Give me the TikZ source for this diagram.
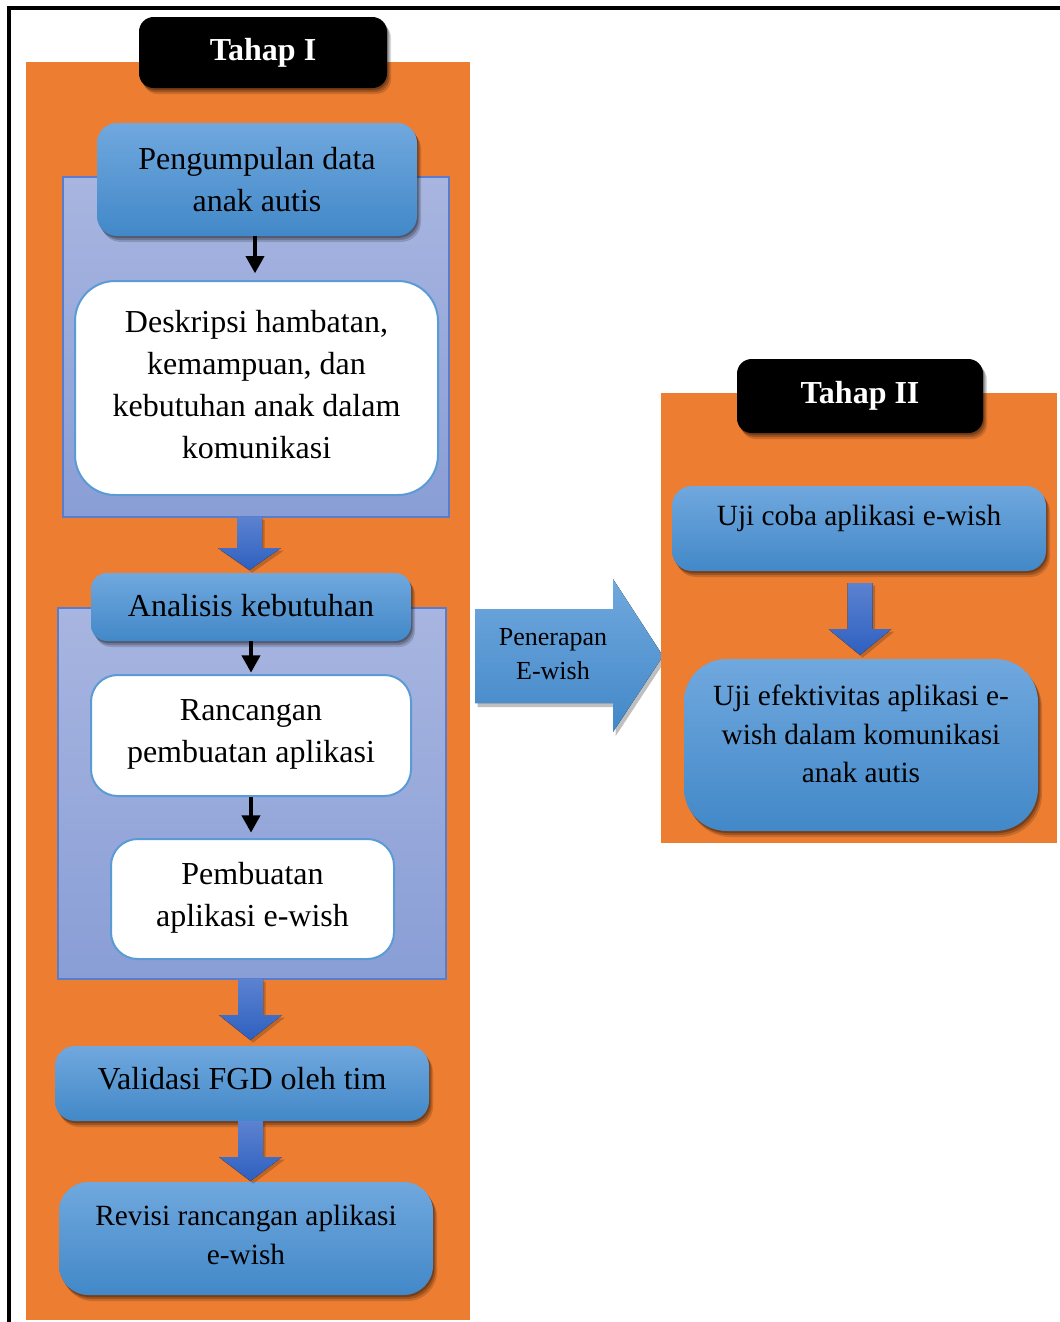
\documentclass[tikz,border=0pt]{standalone}
\usepackage{fontspec}
\setmainfont{Liberation Serif}
\usetikzlibrary{fit,shadows,arrows.meta}
\definecolor{orangeF}{HTML}{ED7D31}
\definecolor{lavTop}{RGB}{168,181,224}
\definecolor{lavBot}{RGB}{137,158,214}
\definecolor{lavEdge}{RGB}{88,125,205}
\definecolor{bTop}{RGB}{112,168,222}
\definecolor{bMid}{RGB}{84,151,217}
\definecolor{bBot}{RGB}{66,136,200}
\definecolor{wEdge}{RGB}{91,155,213}
\definecolor{aTop}{RGB}{92,130,208}
\definecolor{aBot}{RGB}{46,96,192}
\newcommand\bdarrow[4]{\fill[blockarrow] (#1-12.5,#2) -- (#1+12.5,#2) -- (#1+12.5,#3) -- (#1+31.5,#3) -- (#1,#4) -- (#1-31.5,#3) -- (#1-12.5,#3) -- cycle;}
\begin{document}
\begin{tikzpicture}[x=0.75pt,y=-0.75pt,
  softshadow/.style={
    drop shadow={shadow xshift=3pt,shadow yshift=-4.5pt,opacity=0.15,fill=black},
    drop shadow={shadow xshift=2pt,shadow yshift=-3pt,opacity=0.2,fill=black},
    drop shadow={shadow xshift=1pt,shadow yshift=-1.5pt,opacity=0.25,fill=black}},
  orangebg/.style={fill=orangeF,draw=none},
  lav/.style={inner sep=0pt,top color=lavTop,bottom color=lavBot,draw=lavEdge,line width=1.1pt},
  bluebox/.style={inner sep=0pt,top color=bTop,middle color=bMid,bottom color=bBot,draw=none,softshadow},
  whitebox/.style={inner sep=0pt,fill=white,draw=wEdge,line width=1.5pt},
  titlebox/.style={inner sep=0pt,fill=black,rounded corners=11pt,softshadow},
  titletxt/.style={text=white,font=\fontsize{24}{30}\selectfont\bfseries,inner sep=0pt},
  txt/.style={align=center,font=\fontsize{24}{31.5}\selectfont,inner sep=0pt},
  stxt/.style={align=center,font=\fontsize{22}{29}\selectfont,inner sep=0pt},
  ptxt/.style={align=center,font=\fontsize{19.5}{25.5}\selectfont,inner sep=0pt},
  thinarrow/.style={line width=3pt,-{Triangle[width=13.5pt,length=13pt]}},
  blockarrow/.style={top color=aTop,bottom color=aBot,draw=none,
    drop shadow={shadow xshift=2pt,shadow yshift=-2pt,opacity=0.2,fill=black}},
  bigarrow/.style={top color=bTop,middle color=bMid,bottom color=bBot,draw=none,
    drop shadow={shadow xshift=2pt,shadow yshift=-3pt,opacity=0.25,fill=black}}
]
\useasboundingbox (0,0) rectangle (1060,1322);
\fill[white] (0,0) rectangle (1060,1322);
% frame
\draw[line width=3pt] (1060,8) -- (9,8) -- (9,1322);

% ---------- Tahap I ----------
\fill[orangebg] (26,62) rectangle (470,1320);
\node[titlebox,fit={(139,17) (387,88)}] (t1) {};
\node[titletxt] at (t1.center) {Tahap I};

\node[lav,fit={(63,177) (449,517)}] (lav1) {};
\node[bluebox,rounded corners=15pt,fit={(97,123) (417,236)}] (p1) {};
\node[txt] at (257,180) {Pengumpulan data\\anak autis};

\node[whitebox,rounded corners=30pt,fit={(75,281) (438,495)}] (d1) {};
\node[txt] at (256.5,385) {Deskripsi hambatan,\\kemampuan, dan\\kebutuhan anak dalam\\komunikasi};
\draw[thinarrow,shorten >=5pt] ([xshift=-1.5pt]p1.south) -- ([xshift=-1.5pt]p1.south |- d1.north);

\node[lav,fit={(58,608) (446,979)}] (lav2) {};
\node[bluebox,rounded corners=12pt,fit={(91,573) (411,641)}] (a1) {};
\node[txt] at (251,606) {Analisis kebutuhan};

\node[whitebox,rounded corners=20pt,fit={(91,675) (411,796)}] (r1) {};
\node[txt] at (251,734) {Rancangan\\pembuatan aplikasi};
\draw[thinarrow,shorten >=1pt] (a1.south) -- (r1.north);

\node[whitebox,rounded corners=20pt,fit={(111,839) (394,959)}] (pm1) {};
\node[txt] at (252.5,898) {Pembuatan\\aplikasi e-wish};
\draw[thinarrow,shorten >=4pt] (r1.south) -- (r1.south |- pm1.north);

\bdarrow{249.5}{517}{548}{570}

\node[bluebox,rounded corners=15pt,fit={(55,1046) (429,1121)}] (v1) {};
\node[txt] at (242,1079) {Validasi FGD oleh tim};
\bdarrow{250.5}{979}{1015}{1040}

\node[bluebox,rounded corners=22pt,fit={(59,1182) (433,1295)}] (rv1) {};
\node[stxt] at (246,1235) {Revisi rancangan aplikasi\\e-wish};
\bdarrow{250.5}{1121}{1157}{1181}

% ---------- Penerapan arrow ----------
\fill[bigarrow] (475,609) -- (613,609) -- (613,579) -- (663,656) -- (613,732) -- (613,703) -- (475,703) -- cycle;
\node[ptxt] (pe) at (553,654) {Penerapan\\E-wish};

% ---------- Tahap II ----------
\fill[orangebg] (661,393) rectangle (1057,843);
\node[titlebox,fit={(737,359) (983,433)}] (t2) {};
\node[titletxt] at (t2.center) {Tahap II};

\node[bluebox,rounded corners=15pt,fit={(672,486) (1046,571)}] (u1) {};
\node[stxt] at (859,518) {Uji coba aplikasi e-wish};

\node[bluebox,rounded corners=32pt,fit={(684,659) (1038,831)}] (u2) {};
\node[stxt] at (861,734) {Uji efektivitas aplikasi e-\\wish dalam komunikasi\\anak autis};
\bdarrow{860}{583}{629}{655}
\end{tikzpicture}
\end{document}
